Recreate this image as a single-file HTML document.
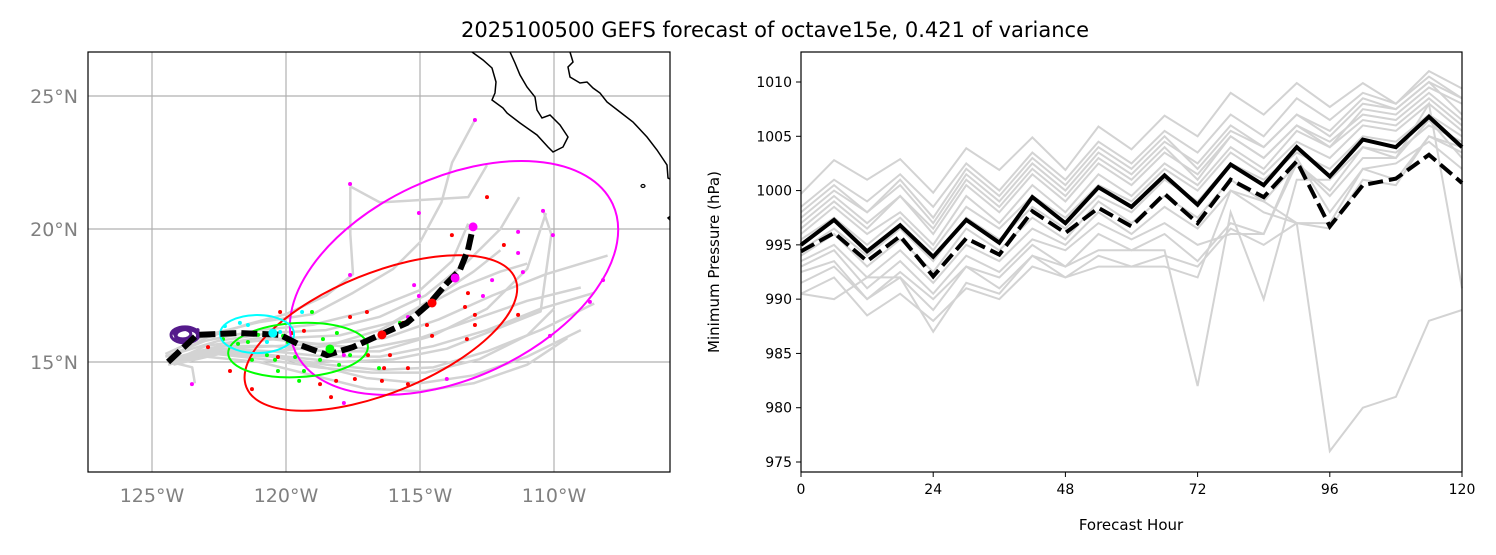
<!DOCTYPE html>
<html><head><meta charset="utf-8"><style>
body{margin:0;background:#fff;width:1496px;height:550px;overflow:hidden;font-family:"Liberation Sans","DejaVu Sans",sans-serif}
svg text{font-family:"DejaVu Sans","Liberation Sans",sans-serif}
</style></head><body>
<svg id="fig" width="1496" height="550">
<text x="775" y="37" text-anchor="middle" font-size="21" fill="#000">2025100500 GEFS forecast of octave15e, 0.421 of variance</text>
<defs><clipPath id="mapclip"><rect x="88" y="52" width="582" height="420"/></clipPath></defs>
<g id="map"></g>
<g id="pres"></g>
</svg>
<script>
// ---------- Pressure chart data ----------
const hours = [0,6,12,18,24,30,36,42,48,54,60,66,72,78,84,90,96,102,108,114,120];
const xTicks = [0,24,48,72,96,120];
const yTicks = [975,980,985,990,995,1000,1005,1010];
const meanP = [995.0,997.3,994.4,996.8,993.9,997.3,995.2,999.4,997.0,1000.3,998.5,1001.4,998.7,1002.4,1000.5,1004.0,1001.3,1004.7,1004.0,1006.8,1004.0];
const dashP = [994.4,996.1,993.5,995.8,992.1,995.6,994.1,998.1,996.1,998.4,996.7,999.7,997.0,1001.0,999.4,1002.7,996.7,1000.5,1001.1,1003.3,1000.7];
const m1 = [999.7,1002.8,1001,1002.9,999.8,1003.9,1001.9,1004.9,1001.9,1005.9,1003.8,1006.9,1005,1009,1007,1009.9,1007.7,1009.9,1008,1011,1009.4];
const m2 = [998.5,1001,999,1001.5,998.5,1002.5,1000,1003.5,1001,1004.5,1002.5,1005.5,1003.5,1007,1005,1008.5,1006.5,1009,1008,1010.5,1008.5];
const m3 = [997.5,1000,998,1000.5,997,1001.5,999,1002.5,1000,1003.5,1001.5,1004.5,1002.5,1006,1004,1007,1005,1008,1007.5,1010,1007];
const m4 = [996.5,999,996.5,999.5,996,1000.5,998,1001.5,999,1002.5,1000.5,1003.5,1001.5,1005,1003,1006,1004.5,1007,1006.5,1009,1006.5];
const m5 = [996,998.5,996,998,995,999.5,997,1000.5,998,1001.5,999.5,1002.5,1000.5,1004,1002,1005.5,1004,1006.5,1006,1008.5,1006];
const m6 = [995.5,997.5,995,997.5,994.5,998.5,996.5,999.5,997.5,1000.5,999,1002,1000,1003.5,1001.5,1004.5,1003,1006,1005.5,1008,1005.5];
const m7 = [994.5,996.5,994,996.5,993.5,997.5,995.5,998.5,996.5,999.5,998,1001,999,1002.5,1001,1003.5,1002,1005,1004.5,1007,1005];
const m8 = [994,996,993,995.5,992.5,996.5,994.5,997.5,995.5,999,997,999.5,997.5,1001,999,1002.5,1000,1004,1003.5,1006,1004.5];
const m9 = [993.5,995,992,994.5,991.5,995,993.5,996.5,995,998,996,998.5,996.5,1000,998,997,996.5,1001,1000.5,1005,1003.5];
const m10 = [993,994.5,991,993.5,990.5,994,992.5,995.5,994.5,997,995.5,997,995,996,996,1003,998,1002,1002.5,1004.5,1002];
const m11 = [992.5,993.5,990,992.5,990,993,992,995,993,996,994.5,996,993.5,997,996,1002.5,999.5,1003,1003,1006.5,1003];
const m12 = [991.5,993,990,992,989,993,991,994,993,994.5,994.5,994.5,982,998,990,1001,1001,1004,1003,1008,991];
const m13 = [990.5,990,992,992,987,991.5,990.5,994,992,993,993,993,992,1000,999,997,976,980,981,988,989];
const m14 = [990.5,992,988.5,990.5,988,991,990,993,992,994,993,994,993,996.5,995,997,997,1002,1001,1005,1004];
const m15 = [997,999.5,997,999.5,996.5,1001,998.5,1002,999.5,1003,1001,1004,1001,1005,1003,1006,1004,1007.5,1007,1009.5,1008];
const m16 = [998,1000.5,998,1001,997.5,1002,999.5,1003,1000.5,1004,1002,1005,1002,1005.5,1004,1007,1005.5,1008.5,1007.5,1010,1008.5];
const members = [m1,m2,m3,m4,m5,m6,m7,m8,m9,m10,m11,m12,m13,m14,m15,m16];

// ---------- Map data (lon, lat) ----------
const lonTicks = [-125,-120,-115,-110];
const latTicks = [15,20,25];
const meanTrack = [[-124.40,15.00],[-123.32,16.02],[-121.72,16.09],[-120.22,16.02],[-119.48,15.64],[-118.47,15.26],[-117.50,15.56],[-116.49,16.02],[-115.49,16.47],[-114.63,17.22],[-113.99,17.97],[-113.51,18.46],[-113.21,19.21],[-113.02,20.08]];
const bigDots = [[-120.49,16.09,"#00ffff"],[-118.36,15.49,"#00ff00"],[-116.42,16.02,"#ff0000"],[-114.55,17.22,"#ff0000"],[-113.69,18.16,"#ff00ff"],[-113.02,20.08,"#ff00ff"]];
const tracks = [
[[-124.3,15.0],[-123,15.6],[-121,15.9],[-119,15.7],[-117,15.5],[-115,15.9],[-113,16.6],[-111,17.3],[-109,17.8]],
[[-124.5,15.2],[-123,15.8],[-121,16.2],[-119,16.4],[-117,16.9],[-115,17.7],[-113.8,18.8],[-113.2,20.2]],
[[-124.2,14.9],[-122.5,15.3],[-120.5,15.2],[-118.5,14.9],[-116.5,14.7],[-114.5,14.8],[-112.5,15.4],[-110.5,16.2],[-108.5,17.2]],
[[-124.4,15.1],[-122.5,15.6],[-120.5,15.6],[-118.5,15.4],[-116.5,15.4],[-114.5,16.0],[-112.5,17.0],[-111,18.5],[-110.3,20.6]],
[[-124.3,15.0],[-122.8,15.4],[-121,15.3],[-119,14.9],[-117,14.4],[-115,14.2],[-113,14.5],[-111,15.2],[-109,16.2]],
[[-124.5,15.3],[-123,16.0],[-121,16.5],[-119,16.8],[-117.5,17.6],[-116,18.5],[-115,19.5],[-114.2,21.0],[-113.8,22.5],[-112.95,24.1]],
[[-124.2,15.0],[-122,15.7],[-120,15.9],[-118,16.0],[-116,16.5],[-114.5,17.4],[-113,18.4],[-112,19.2]],
[[-124.4,15.1],[-122.5,15.5],[-120.5,15.4],[-118.5,15.2],[-116.5,15.2],[-114.5,15.6],[-112.5,16.2],[-110.5,17.0],[-108.5,17.6]],
[[-124.3,15.2],[-123,15.9],[-121.5,16.4],[-120,16.8],[-118.5,17.5],[-117.5,18.3],[-117.6,19.8],[-117.6,21.6]],
[[-124.4,14.9],[-123,15.2],[-121,15.0],[-119,14.5],[-117,14.0],[-115,13.9],[-113,14.2],[-111,14.9],[-109.5,15.9]],
[[-124.3,15.0],[-122.5,15.4],[-120.5,15.4],[-118.5,15.6],[-116.5,16.2],[-115,17.0],[-113.5,17.8],[-112,18.4],[-111,18.7]],
[[-124.5,15.2],[-122.5,15.8],[-120.5,16.1],[-118.5,16.2],[-116.5,16.7],[-114.8,17.5],[-113.2,18.8],[-112,20.0],[-111.3,21.2]],
[[-124.2,15.1],[-122.3,15.5],[-120.3,15.6],[-118.3,15.7],[-116.3,15.9],[-114.3,16.6],[-112.3,17.5],[-110.3,18.3],[-108,19.0]],
[[-124.3,15.0],[-123.5,14.8],[-123.4,14.2]],
[[-124.4,15.1],[-122.6,15.3],[-120.8,15.1],[-118.8,14.8],[-116.8,14.6],[-114.8,14.6],[-112.8,15.1],[-111,16.0],[-110,17.0]],
[[-117.6,21.6],[-116.5,21.0],[-113.2,21.2],[-112.5,22.4]],
[[-124.3,15.1],[-122,15.4],[-120,15.2],[-118,15.0],[-116,15.1],[-114,15.5],[-112,16.3],[-110.5,16.9],[-110.1,19.8],[-110.4,20.7]]
];
const redDots = [[-112.50,21.20],[-113.81,19.77],[-111.87,19.40],[-113.21,17.59],[-113.32,17.07],[-112.95,16.77],[-112.95,16.39],[-113.25,15.86],[-111.34,16.77],[-114.74,16.39],[-114.55,15.98],[-116.98,16.88],[-117.61,16.69],[-115.63,16.47],[-116.12,15.26],[-116.94,15.26],[-116.34,14.77],[-115.45,14.77],[-117.43,14.36],[-116.42,14.29],[-115.45,14.17],[-118.13,14.29],[-118.73,14.17],[-118.32,13.68],[-120.30,15.19],[-119.78,16.09],[-119.33,16.17],[-120.22,16.88],[-122.09,14.66],[-121.27,13.98],[-122.91,15.56]];
const magDots = [[-117.61,21.69],[-115.04,20.60],[-110.41,20.68],[-111.34,19.89],[-110.04,19.77],[-111.34,19.10],[-111.16,18.38],[-117.61,18.27],[-115.22,17.89],[-115.04,17.48],[-112.31,18.08],[-112.65,17.48],[-115.45,16.69],[-108.17,18.08],[-108.66,17.26],[-110.15,15.98],[-114.0,14.36],[-117.84,13.46],[-123.51,14.17],[-117.84,15.26],[-112.95,24.10]];
const greenDots = [[-119.03,16.88],[-118.10,16.09],[-118.62,15.86],[-117.84,15.49],[-117.61,15.26],[-118.02,14.89],[-118.73,15.08],[-119.33,14.66],[-119.51,14.29],[-120.30,14.66],[-120.41,15.08],[-120.71,15.26],[-121.27,15.08],[-121.42,15.75],[-121.79,15.68],[-121.04,16.02],[-120.11,15.98],[-119.93,15.75],[-119.66,15.19],[-116.53,14.77],[-115.75,16.47],[-122.35,15.86]];
const cyanDots = [[-122.28,16.35],[-121.72,16.47],[-121.42,16.39],[-122.01,16.09],[-121.23,16.09],[-120.71,15.75],[-120.22,16.13],[-119.70,15.71],[-119.40,16.88]];
const purpleDots = [[-124.0,16.2],[-123.5,15.9],[-123.9,15.8],[-123.3,16.2],[-124.1,15.9],[-123.6,15.7],[-123.2,16.0],[-124.2,16.1]];
// ellipses: lon, lat, semi-axis x (deg), semi-axis y (deg), angle, colour
const ellipses = [[-113.73,18.16,6.53,3.73,-25,"#ff00ff"],[-116.46,16.09,5.41,2.24,-22,"#ff0000"],[-119.55,15.45,2.61,1.01,-3,"#00ff00"],[-121.08,16.05,1.38,0.71,0,"#00ffff"],[-123.77,16.02,0.52,0.30,0,"#551a8b"],[-123.70,16.00,0.40,0.22,0,"#551a8b"],[-123.85,16.05,0.30,0.18,0,"#551a8b"]];

const NS="http://www.w3.org/2000/svg";
function mk(parent,tag,attrs){const e=document.createElementNS(NS,tag);for(const k in attrs)e.setAttribute(k,attrs[k]);parent.appendChild(e);return e;}

// ---------- Map ----------
const MX0=88,MX1=670,MY0=52,MY1=472;
const mx=lon=>152+(lon+125)*26.8;
const my=lat=>362-(lat-15)*26.6;
const map=document.getElementById('map');
const mapInner=mk(map,'g',{'clip-path':'url(#mapclip)'});


lonTicks.forEach(v=>{const l=mk(mapInner,'line',{x1:mx(v),x2:mx(v),y1:MY0,y2:MY1,stroke:'#b0b0b0','stroke-width':1.2});

});
latTicks.forEach(v=>{const l=mk(mapInner,'line',{x1:MX0,x2:MX1,y1:my(v),y2:my(v),stroke:'#b0b0b0','stroke-width':1.2});

});
const coast1=mk(mapInner,'path',{d:'M472,52 L483,60 L492,68 L496,82 L495,93 L492,100 L503,108 L507,113 L520,123 L537,135 L548,147 L553,152 L563,147 L568,137 L560,125 L550,115 L542,118 L537,110 L535,97 L527,87 L520,75 L515,63 L510,52',fill:'none',stroke:'#000','stroke-width':1.5});


const coast2=mk(mapInner,'path',{d:'M570,52 L573,62 L568,67 L570,77 L580,83 L587,82 L593,88 L600,93 L607,102 L620,112 L633,122 L647,137 L657,150 L667,165 L668,178 L672,180 M672,215 L668,218 L672,222',fill:'none',stroke:'#000','stroke-width':1.5});


const isl=mk(mapInner,'ellipse',{cx:643,cy:186,rx:2,ry:1.5,fill:'none',stroke:'#000','stroke-width':1.2});


tracks.forEach(t=>{const p=mk(mapInner,'polyline',{points:t.map(q=>mx(q[0])+','+my(q[1])).join(' '),fill:'none',stroke:'#d3d3d3','stroke-width':2.5,'stroke-linejoin':'round'});

});
function dots(arr,col,name){arr.forEach(d=>{const c=mk(mapInner,'circle',{cx:mx(d[0]),cy:my(d[1]),r:2,fill:col});

});}
dots(redDots,'#ff0000','red-position-dot');
dots(magDots,'#ff00ff','magenta-position-dot');
dots(greenDots,'#00ff00','green-position-dot');
dots(cyanDots,'#00ffff','cyan-position-dot');
dots(purpleDots,'#551a8b','purple-position-dot');
ellipses.forEach(e=>{const cx=mx(e[0]),cy=my(e[1]);
const el=mk(mapInner,'ellipse',{cx:cx,cy:cy,rx:e[2]*26.8,ry:e[3]*26.8,fill:'none',stroke:e[5],'stroke-width':e[5]==='#551a8b'?3:2,transform:`rotate(${e[4]} ${cx} ${cy})`});

});
const mt=mk(mapInner,'polyline',{points:meanTrack.map(q=>mx(q[0])+','+my(q[1])).join(' '),fill:'none',stroke:'#000','stroke-width':6,'stroke-dasharray':'16,5'});


bigDots.forEach(d=>{const c=mk(mapInner,'circle',{cx:mx(d[0]),cy:my(d[1]),r:4.5,fill:d[2]});

});
const mframe=mk(map,'rect',{x:MX0,y:MY0,width:MX1-MX0,height:MY1-MY0,fill:'none',stroke:'#000','stroke-width':1.2});


lonTicks.forEach(v=>{const t=mk(map,'text',{x:mx(v),y:502,'text-anchor':'middle','font-size':19,fill:'#808080'});t.textContent=(-v)+'°W';

});
latTicks.forEach(v=>{const t=mk(map,'text',{x:78,y:my(v)+7,'text-anchor':'end','font-size':19,fill:'#808080'});t.textContent=v+'°N';

});

// ---------- Pressure chart ----------
const PX0=801,PX1=1462,PY0=52,PY1=472;
const px=h=>PX0+(h-0)/120*(PX1-PX0);
const py=p=>462-(p-975)*10.857;
const pres=document.getElementById('pres');
const pline=(vals)=>hours.map((h,i)=>px(h)+','+py(vals[i])).join(' ');
members.forEach(m=>{const l=mk(pres,'polyline',{points:pline(m),fill:'none',stroke:'#d3d3d3','stroke-width':2});

});
const ml=mk(pres,'polyline',{points:pline(meanP),fill:'none',stroke:'#000','stroke-width':4});


const dl=mk(pres,'polyline',{points:pline(dashP),fill:'none',stroke:'#000','stroke-width':4,'stroke-dasharray':'15,6'});


const pf=mk(pres,'rect',{x:PX0,y:PY0,width:PX1-PX0,height:PY1-PY0,fill:'none',stroke:'#000','stroke-width':1.2});


xTicks.forEach(v=>{mk(pres,'line',{x1:px(v),x2:px(v),y1:PY1,y2:PY1+5,stroke:'#000','stroke-width':1});
const t=mk(pres,'text',{x:px(v),y:PY1+22,'text-anchor':'middle','font-size':14});t.textContent=v;

});
yTicks.forEach(v=>{mk(pres,'line',{x1:PX0-5,x2:PX0,y1:py(v),y2:py(v),stroke:'#000','stroke-width':1});
const t=mk(pres,'text',{x:PX0-9,y:py(v)+5,'text-anchor':'end','font-size':14});t.textContent=v;

});
const xt=mk(pres,'text',{x:1131,y:530,'text-anchor':'middle','font-size':15});xt.textContent='Forecast Hour';


const yt=mk(pres,'text',{x:0,y:0,'text-anchor':'middle','font-size':15,transform:'translate(719,262) rotate(-90)'});yt.textContent='Minimum Pressure (hPa)';


</script>
</body></html>
